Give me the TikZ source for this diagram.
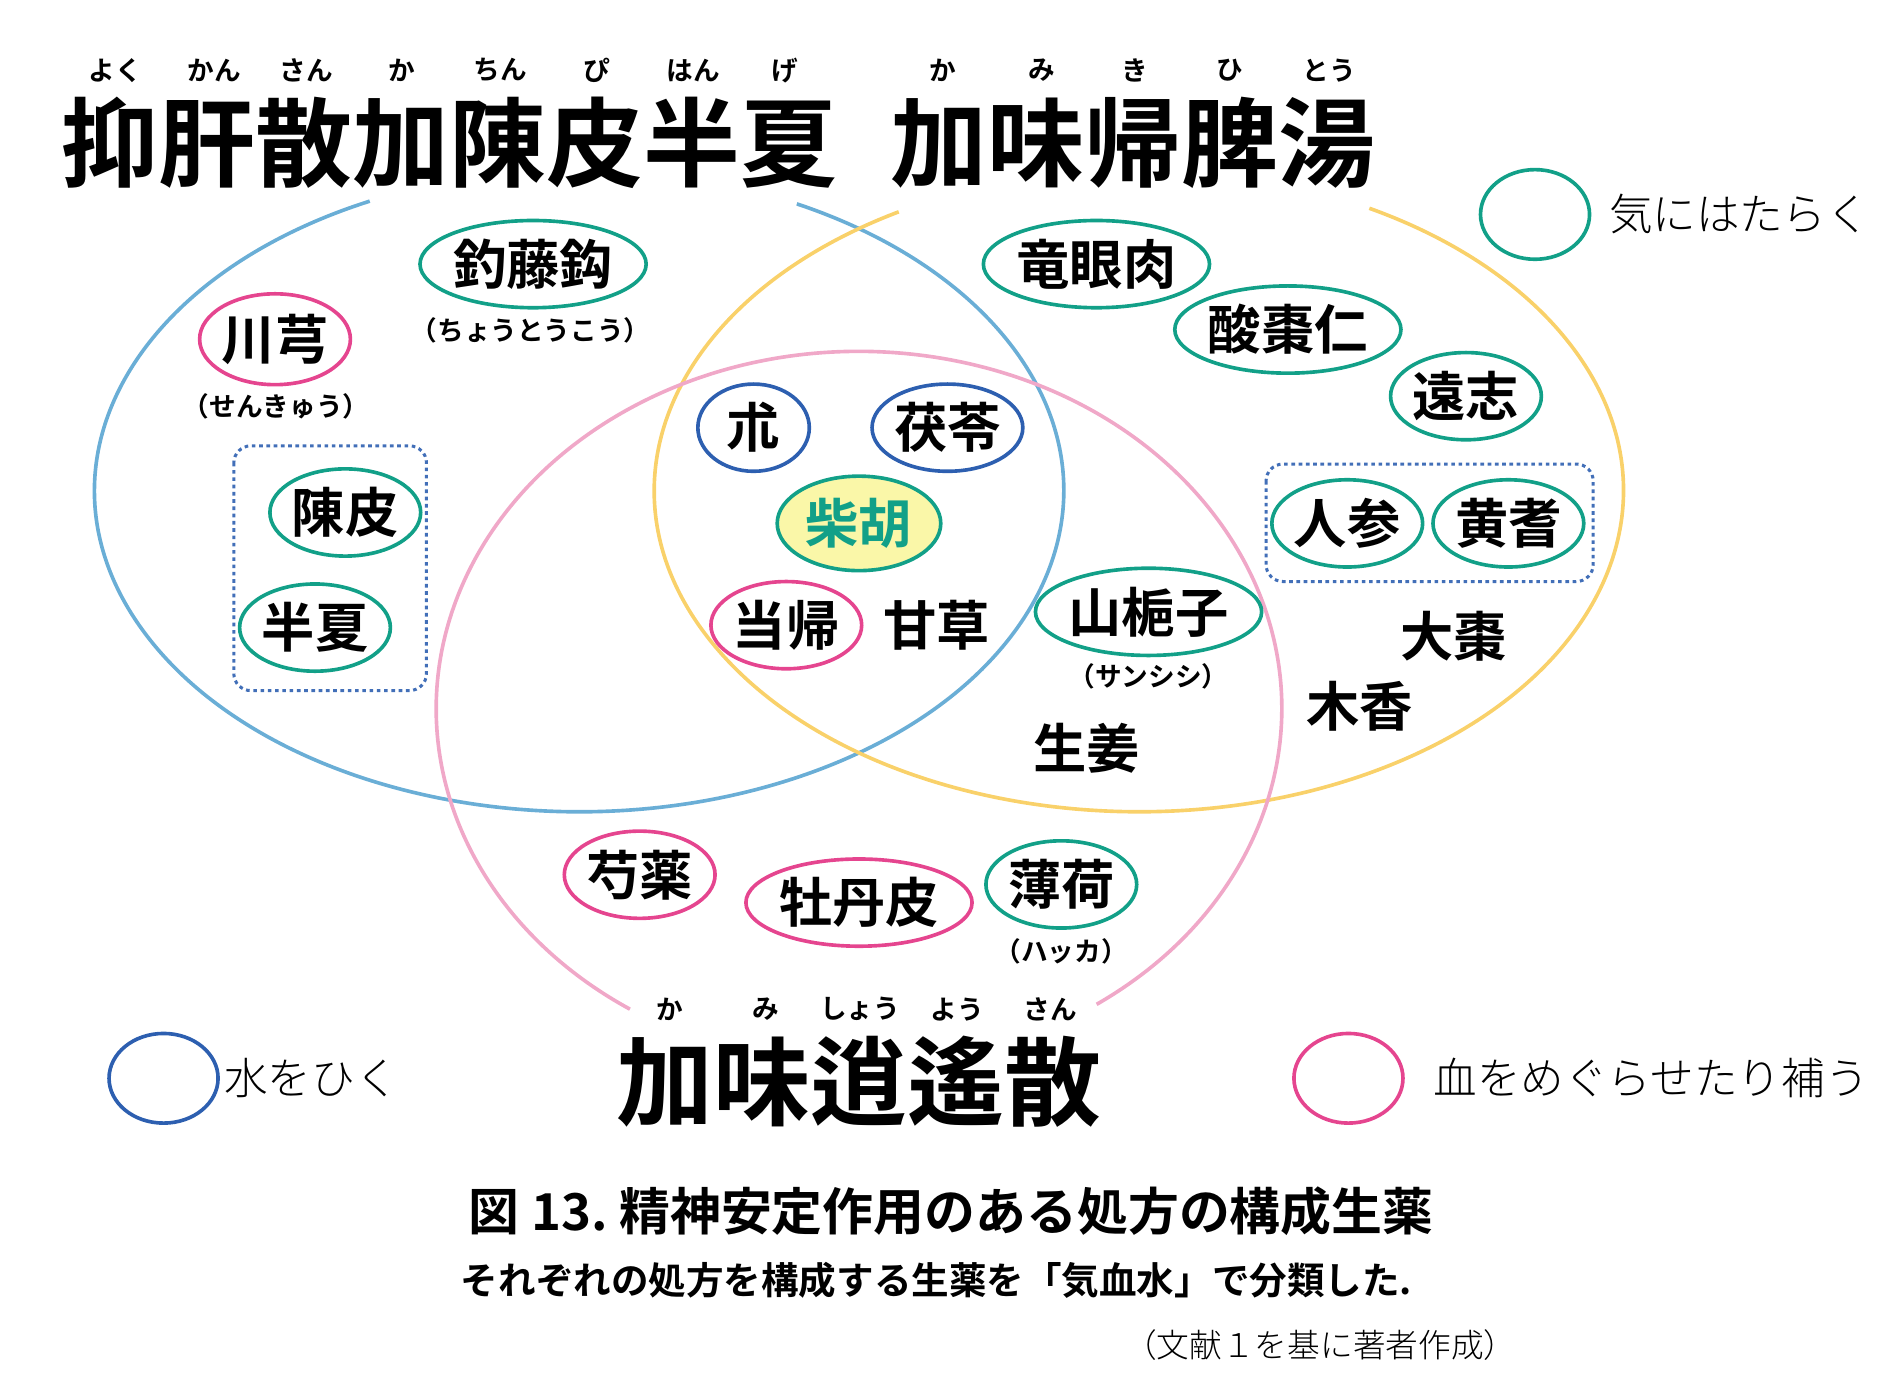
\documentclass[tikz,border=0pt]{standalone}
\usepackage{fontspec}
\setmainfont{Noto Sans CJK JP}
\newfontfamily\jb{Noto Sans CJK JP Bold}
\newfontfamily\jl{Noto Sans CJK JP Light}
\definecolor{cblue}{HTML}{6AAED6}
\definecolor{cyel}{HTML}{F9D16A}
\definecolor{cpink}{HTML}{F0A8C8}
\definecolor{oteal}{HTML}{12A088}
\definecolor{opink}{HTML}{E5458F}
\definecolor{oblue}{HTML}{2D5FB0}
\definecolor{fyel}{HTML}{FAF7A8}
\begin{document}
\begin{tikzpicture}[x=1pt,y=1pt,
  herb/.style={font=\jb\fontsize{44}{44}\selectfont,inner sep=0pt},
  ov/.style={herb,ellipse,draw,line width=3pt,minimum height=72pt},
  tealov/.style={ov,draw=oteal},
  pinkov/.style={ov,draw=opink},
  blueov/.style={ov,draw=oblue},
  sub/.style={font=\jb\fontsize{22}{22}\selectfont},
  ruby/.style={font=\jb\fontsize{22}{22}\selectfont},
  title/.style={font=\jb\fontsize{80}{80}\selectfont,inner sep=0pt},
  dbox/.style={draw=oblue!90,dashed,line width=2.5pt,rounded corners=14pt},
  legend/.style={font=\jl\fontsize{36}{36}\selectfont,anchor=west,inner sep=0pt}]
\useasboundingbox (0,0) rectangle (1560,-1151);
\usetikzlibrary{shapes.geometric}
% big circles
\draw[cblue,line width=3pt] ([shift={(115.6:400pt and 265pt)}]478,-405) arc[start angle=115.6,end angle=423.3,x radius=400,y radius=265];
\draw[cyel,line width=3pt] ([shift={(119.7:400pt and 265pt)}]940,-405) arc[start angle=119.7,end angle=421.6,x radius=400,y radius=265];
\draw[cpink,line width=3pt] ([shift={(304.2:349pt and 295pt)}]709,-585) arc[start angle=304.2,end angle=597.2,x radius=349,y radius=295];
% titles
\node[title] (t1) at (371,-118) {抑肝散加陳皮半夏};
\node[title] (t2) at (935,-118) {加味帰脾湯};
\node[title] (t3) at (709,-893) {加味逍遙散};
\foreach \x/\t in {95/よく,177/かん,253/さん,332/か,413/ちん,493/ぴ,572/はん,648/げ,778/か,860/み,937/き,1015/ひ,1097/とう,553/か,632/み,710/しょう,790/よう,867/さん}{}
\foreach \x/\t in {95/よく,177/かん,253/さん,332/か,413/ちん,493/ぴ,572/はん,648/げ,778/か,860/み,937/き,1015/ひ,1097/とう}{\node[ruby] at (\x,-58) {\t};}
\foreach \x/\t in {553/か,632/み,710/しょう,790/よう,867/さん}{\node[ruby] at (\x,-833) {\t};}
% dashed boxes
\draw[dbox] (193,-368) rectangle (352,-570);
\draw[dbox] (1045,-383) rectangle (1315,-480);
% herbs
\node[tealov,minimum width=170pt] (chotoko) at (440,-218) {釣藤鈎};
\node[sub] at (438,-273) {（ちょうとうこう）};
\node[pinkov,minimum width=115pt,minimum height=75pt] (senkyu) at (227,-280) {川芎};
\node[sub] at (228,-335) {（せんきゅう）};
\node[tealov,minimum width=115pt] (chinpi) at (285,-423) {陳皮};
\node[tealov,minimum width=115pt] (hange) at (260,-518) {半夏};
\node[tealov,minimum width=170pt] (ryugan) at (905,-218) {竜眼肉};
\node[tealov,minimum width=170pt] (sansonin) at (1063,-272) {酸棗仁};
\node[tealov,minimum width=115pt] (onji) at (1210,-327) {遠志};
\node[tealov,minimum width=115pt] (ninjin) at (1112,-432) {人参};
\node[tealov,minimum width=115pt] (ogi) at (1245,-432) {黄耆};
\node[herb] (taiso) at (1200,-525) {大棗};
\node[herb] (mokko) at (1122,-583) {木香};
\node[blueov,minimum width=92pt] (jutsu) at (622,-353) {朮};
\node[blueov,minimum width=115pt] (bukuryo) at (782,-353) {茯苓};
\node[tealov,fill=fyel,text=oteal,minimum width=135pt,minimum height=78pt] (saiko) at (709,-432) {柴胡};
\node[pinkov,minimum width=115pt] (toki) at (649,-516) {当帰};
\node[herb] (kanzo) at (773,-516) {甘草};
\node[tealov,minimum width=170pt] (sanshishi) at (948,-505) {山梔子};
\node[sub] at (948,-558) {（サンシシ）};
\node[herb] (shokyo) at (897,-618) {生姜};
\node[pinkov,minimum width=115pt] (shakuyaku) at (528,-722) {芍薬};
\node[pinkov,minimum width=170pt] (botanpi) at (709,-745) {牡丹皮};
\node[tealov,minimum width=115pt] (hakka) at (876,-730) {薄荷};
\node[sub] at (876,-785) {（ハッカ）};
% legends
\node[ellipse,draw=oteal,line width=3pt,minimum width=90pt,minimum height=74pt] (lg1) at (1267,-177) {};
\node[legend] at (1328,-177) {気にはたらく};
\node[ellipse,draw=oblue,line width=3pt,minimum width=90pt,minimum height=74pt] (lg2) at (135,-890) {};
\node[legend] at (185,-890) {水をひく};
\node[ellipse,draw=opink,line width=3pt,minimum width=90pt,minimum height=74pt] (lg3) at (1113,-890) {};
\node[legend] at (1183,-890) {血をめぐらせたり補う};
% captions
\node[font=\fontsize{42}{42}\selectfont\jb,inner sep=0pt] (cap) at (785,-1000) {図 13.\ 精神安定作用のある処方の構成生薬};
\node[font=\fontsize{31}{31}\selectfont\jb,inner sep=0pt] (cap2) at (773,-1057) {それぞれの処方を構成する生薬を「気血水」で分類した.};
\node[font=\fontsize{27}{27}\selectfont\jl,inner sep=0pt,anchor=east] (cap3) at (1252,-1110) {（文献１を基に著者作成）};
\end{tikzpicture}
\end{document}
